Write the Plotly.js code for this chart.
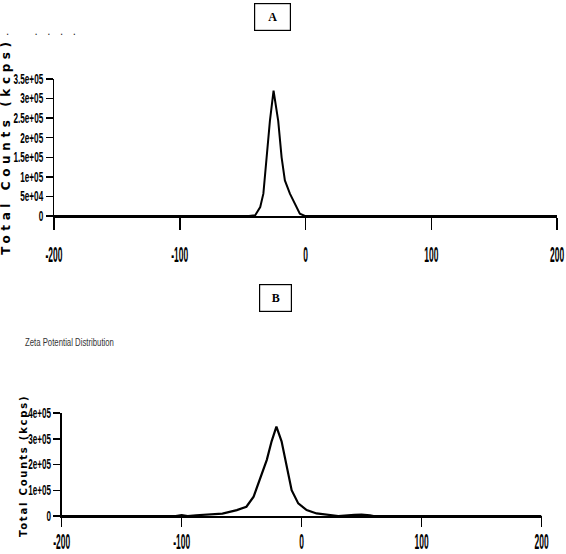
<!DOCTYPE html>
<html>
<head>
<meta charset="utf-8">
<script src="https://cdn.plot.ly/plotly-3.0.1.min.js"></script>
<style>
  html, body { margin: 0; padding: 0; background: #ffffff; }
  #chart { width: 566px; height: 554px; }
</style>
</head>
<body>
<div id="chart"></div>
<script>
// Panel A: zeta potential (mV) vs total counts
const zetaA = [-200, -45, -40, -36, -33.5, -31, -28.3, -25.4, -21.7, -19, -16.4, -12.4, -8.4, -4.5, -0.5, 200];
const countsA = [0, 0, 2000, 23000, 57000, 142000, 243000, 320000, 243000, 150000, 91000, 57000, 32000, 6000, 0, 0];

// Panel B: zeta potential distribution
const zetaB = [-200, -105, -100, -95, -88, -66, -54, -46, -40, -35, -29, -25, -21, -16.7, -12.5, -8.3, -2.8, 4.2, 12.5, 23.6, 30.6, 44, 50, 57, 60, 200];
const countsB = [0, 0, 3000, 0, 3000, 9000, 23000, 36000, 75000, 140000, 218000, 290000, 347000, 290000, 192000, 100000, 49000, 23000, 10000, 5000, 0, 4000, 5000, 3000, 0, 0];

// Tick values and labels
const xTickVals = [-200, -100, 0, 100, 200];
const xTickText = ['-200', '-100', '0', '100', '200'];
const yTickValsA = [0, 50000, 100000, 150000, 200000, 250000, 300000, 350000];
const yTickTextA = ['0', '5e+04', '1e+05', '1.5e+05', '2e+05', '2.5e+05', '3e+05', '3.5e+05'];
const yTickValsB = [0, 100000, 200000, 300000, 400000];
const yTickTextB = ['0', '1e+05', '2e+05', '3e+05', '4e+05'];

const panelLabels = ['A', 'B'];
const yTitle = 'Total Counts (kcps)';
const subTitleB = 'Zeta Potential Distribution';

const W = 566, H = 554;
const px = v => v / W;
const py = v => 1 - v / H;

const sans = 'Liberation Sans, Arial, sans-serif';

const traces = [
  { x: zetaA, y: countsA, type: 'scatter', mode: 'lines', xaxis: 'x', yaxis: 'y',
    line: { color: '#000000', width: 2 } },
  { x: zetaB, y: countsB, type: 'scatter', mode: 'lines', xaxis: 'x2', yaxis: 'y2',
    line: { color: '#000000', width: 2.2 } }
];

function xAxis(domain, anchor, ticklen, standoff) {
  return {
    domain: domain, anchor: anchor, range: [-200, 200],
    showgrid: false, zeroline: false, showline: true, linecolor: '#000', linewidth: 2,
    ticks: 'outside', ticklen: ticklen, tickwidth: 1.5, tickcolor: '#000',
    tickvals: xTickVals, ticktext: xTickText, ticklabelstandoff: standoff,
    ticklabeloverflow: 'allow',
    tickfont: { family: sans, size: 16, color: '#000', weight: 'bold' }
  };
}
function yAxis(domain, anchor, range, vals, text, ticklen) {
  return {
    domain: domain, anchor: anchor, range: range,
    showgrid: false, zeroline: false, showline: true, linecolor: '#000', linewidth: 1.5,
    ticks: 'outside', ticklen: ticklen, tickwidth: 1.5, tickcolor: '#000',
    tickvals: vals, ticktext: text, ticklabelstandoff: 0,
    ticklabeloverflow: 'allow',
    tickfont: { family: sans, size: 12, color: '#000', weight: 'bold' }
  };
}

const layout = {
  width: W, height: H, autosize: false,
  margin: { l: 0, r: 0, t: 0, b: 0 },
  paper_bgcolor: '#ffffff', plot_bgcolor: '#ffffff',
  showlegend: false,
  xaxis: xAxis([px(54), px(557)], 'y', 12, 11),
  yaxis: yAxis([py(216), py(79)], 'x', [0, 350000], yTickValsA, yTickTextA, 7),
  xaxis2: xAxis([px(61.7), px(541.5)], 'y2', 9, 1),
  yaxis2: yAxis([py(516), py(413)], 'x2', [0, 400000], yTickValsB, yTickTextB, 7),
  annotations: [
    { text: panelLabels[0], xref: 'paper', yref: 'paper', x: px(272.5), y: py(17),
      xanchor: 'center', yanchor: 'middle', showarrow: false,
      width: 35, height: 26, borderpad: 0, bordercolor: '#000', borderwidth: 1.2,
      font: { family: 'Liberation Serif, serif', size: 12, color: '#000', weight: 'bold' } },
    { text: panelLabels[1], xref: 'paper', yref: 'paper', x: px(275.5), y: py(298),
      xanchor: 'center', yanchor: 'middle', showarrow: false,
      width: 31, height: 26, borderpad: 0, bordercolor: '#000', borderwidth: 1.2,
      font: { family: 'Liberation Serif, serif', size: 12, color: '#000', weight: 'bold' } },
    { text: yTitle, xref: 'paper', yref: 'paper', x: px(6), y: py(146),
      xanchor: 'center', yanchor: 'middle', textangle: -90, showarrow: false,
      font: { family: 'DejaVu Sans', size: 12, color: '#000', weight: 'bold' } },
    { text: yTitle, xref: 'paper', yref: 'paper', x: px(23), y: py(466),
      xanchor: 'center', yanchor: 'middle', textangle: -90, showarrow: false,
      font: { family: 'DejaVu Sans', size: 10, color: '#000', weight: 'bold' } },
    { text: subTitleB, xref: 'paper', yref: 'paper', x: px(23), y: py(342),
      xanchor: 'left', yanchor: 'middle', align: 'left', showarrow: false,
      font: { family: sans, size: 11, color: '#333' } },
    { text: '.\u00a0\u00a0\u00a0\u00a0\u00a0\u00a0\u00a0\u00a0.\u00a0\u00a0\u00a0.\u00a0\u00a0\u00a0.\u00a0\u00a0\u00a0.',
      xref: 'paper', yref: 'paper', x: px(4), y: py(31),
      xanchor: 'left', yanchor: 'middle', align: 'left', showarrow: false,
      font: { family: 'DejaVu Sans', size: 10, color: '#222' } }
  ]
};

// Condense a text element around its anchor point (tall, narrow lettering).
function condense(el, sx, sy) {
  const bb = el.getBBox();
  const anchor = el.getAttribute('text-anchor') || 'start';
  const cx = anchor === 'middle' ? bb.x + bb.width / 2 : anchor === 'end' ? bb.x + bb.width : bb.x;
  const cy = bb.y + bb.height / 2;
  const t = el.getAttribute('transform') || '';
  el.setAttribute('transform',
    t + ' translate(' + cx + ',' + cy + ') scale(' + sx + ',' + sy + ') translate(' + (-cx) + ',' + (-cy) + ')');
}

// Condense all labels of one axis so that its widest label is `width` px wide.
function condenseAxis(gd, cls, width, sy) {
  const els = Array.from(gd.querySelectorAll('g.' + cls + ' text'));
  if (!els.length) return;
  const widest = Math.max.apply(null, els.map(e => e.getBBox().width));
  const sx = width / widest;
  els.forEach(el => condense(el, sx, sy));
}

Plotly.newPlot('chart', traces, layout, { staticPlot: true, displayModeBar: false }).then(gd => {
  condenseAxis(gd, 'xtick', 17, 1.35);
  condenseAxis(gd, 'x2tick', 17, 1.35);
  condenseAxis(gd, 'ytick', 30, 1.15);
  condenseAxis(gd, 'y2tick', 23, 1.15);

  const ann = i => gd.querySelector('g.annotation[data-index="' + i + '"] text.annotation-text');
  const tA = ann(2), tB = ann(3), sub = ann(4);
  if (tA) tA.style.letterSpacing = '4.6px';
  if (tB) tB.style.letterSpacing = '1.8px';
  if (sub) condense(sub, 89 / sub.getBBox().width, 1);
});
</script>
</body>
</html>
